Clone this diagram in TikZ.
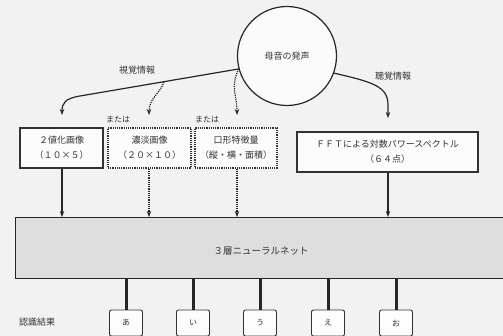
\documentclass[tikz,border=0pt]{standalone}
\usepackage{fontspec}
\setmainfont{Noto Sans CJK JP}
\usetikzlibrary{arrows.meta}
\tikzset{
  tip/.style={-{Stealth[length=6pt,width=4.5pt]}},
  conn/.style={line width=1.2pt, black!85, tip},
  dconn/.style={line width=1.2pt, black!85, densely dotted, tip},
  txt/.style={font=\fontsize{9}{11}\selectfont, text=black!80, inner sep=1pt},
  small/.style={font=\fontsize{8}{9}\selectfont, text=black!80, inner sep=1pt},
  inbox/.style={draw=black!80, fill=white!60!black!3, minimum height=40pt, inner sep=1pt, align=center, font=\fontsize{9}{15}\selectfont, text=black!80},
  outbox/.style={draw=black!80, line width=0.9pt, rounded corners=2pt, minimum width=33pt, minimum height=26pt, fill=white!70!black!3, font=\fontsize{8}{9}\selectfont, text=black!80},
  outline/.style={line width=3pt, black!85},
}
\begin{document}
\begin{tikzpicture}[x=1pt,y=-1pt]
\useasboundingbox (0,0) rectangle (503,336);
\clip (0,0) rectangle (503,336);
\fill[black!5] (0,0) rectangle (503,336);

% source circle
\node[draw=black!85, line width=1.2pt, circle, minimum size=99pt, inner sep=0pt, fill=white!60!black!4, txt] (mouth) at (287,56) {母音の発声};

% labels
\node[txt] (vis) at (137,70) {視覚情報};
\node[txt] (aud) at (393,76) {聴覚情報};
\node[small] (or1) at (118,120) {または};
\node[small] (or2) at (207,120) {または};

% input boxes
\node[inbox, line width=1.6pt, minimum width=83pt] (b1) at (61.5,148) {２値化画像\\（１０×５）};
\node[inbox, line width=1.2pt, densely dotted, minimum width=83pt] (b2) at (149.5,148) {濃淡画像\\（２０×１０）};
\node[inbox, line width=1.2pt, densely dotted, minimum width=82pt] (b3) at (236,148) {口形特徴量\\（縦・横・面積）};
\node[inbox, line width=1.2pt, minimum width=181pt] (b4) at (387.5,152) {ＦＦＴによる対数パワースペクトル\\（６４点）};

% connectors from circle
\coordinate (v0) at (mouth.195);
\coordinate (v1) at (80,96);
\path (v0) -- (v1) coordinate[pos=0.47] (d1s);
\draw[conn] (v0) -- (v1) .. controls (65,98.5) and (62,103) .. (62,115);
\draw[dconn] (d1s) .. controls (160,94) and (149,98) .. (149,115);
\draw[dconn] (v0) .. controls (230,88) and (237,95) .. (237,115);
\draw[conn] (mouth.340) .. controls (372,82) and (388,86) .. (388,105) -- (388,118);

% neural net
\node[draw=black!85, line width=1.2pt, fill=black!13, minimum width=495pt, minimum height=61pt, anchor=north west, inner sep=0pt] (net) at (15,217) {};
\node[font=\fontsize{9.5}{11}\selectfont, text=black!80] (nettext) at (261,251) {３層ニューラルネット};

\draw[conn] (b1.south -| 62,0) -- (62,217);
\draw[dconn] (b2.south -| 149,0) -- (149,217);
\draw[dconn] (b3.south -| 237,0) -- (237,217);
\draw[conn] (b4.south -| 388,0) -- (388,217);

% outputs
\node[txt] (res) at (37,322) {認識結果};
\node[outbox] (oa) at (126,323) {あ};
\node[outbox] (oi) at (193,323) {い};
\node[outbox] (ou) at (260,323) {う};
\node[outbox] (oe) at (328,323) {え};
\node[outbox] (oo) at (396,323) {お};
\foreach \n in {oa,oi,ou,oe,oo}
  \draw[outline] (\n.north |- net.south) -- (\n.north);
\end{tikzpicture}
\end{document}
